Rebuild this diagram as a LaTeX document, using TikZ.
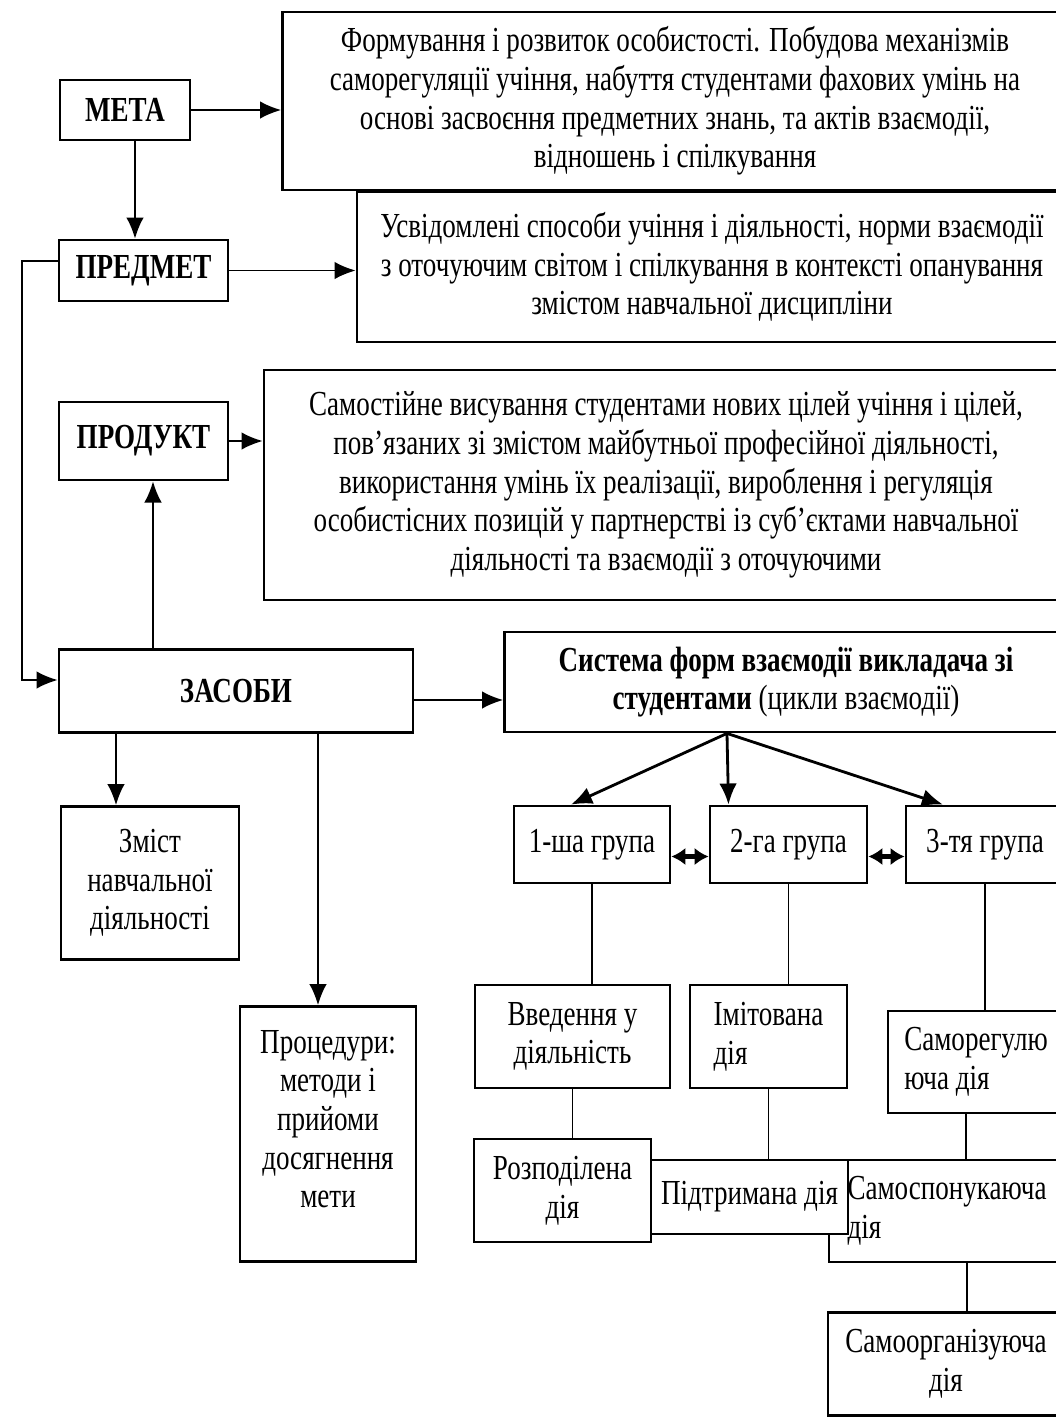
\documentclass[tikz,border=0pt]{standalone}
\usepackage{fontspec}
\setmainfont[FakeStretch=0.77]{Liberation Serif}
\usetikzlibrary{arrows.meta}
\newcommand\boxfont{\fontsize{10pt}{11pt}\selectfont}
\begin{document}
\begin{tikzpicture}[x=0.1mm, y=-0.1mm,
    lbl/.style={draw, rectangle, fill=white, line width=0.8pt, font=\boxfont\bfseries, align=center, inner sep=2pt},
    txt/.style={draw, rectangle, fill=white, line width=0.8pt, font=\boxfont, align=center, inner sep=2pt},
    ltxt/.style={txt, align=left},
    link/.style={-{Latex[length=6pt,width=5pt]}, line width=0.5pt},
    dbl/.style={{Latex[length=4pt,width=5pt]}-{Latex[length=4pt,width=5pt]}, line width=1.2pt},
    wire/.style={line width=0.5pt}
]
\useasboundingbox (0,0) rectangle (1056,1418);
\clip (0,0) rectangle (1056,1418);
\fill[white] (0,0) rectangle (1056,1418);

% top blocks
\node[lbl, minimum width=13mm, minimum height=6mm] (meta) at (125,110) {МЕТА};
\node[txt, minimum width=78.5mm, minimum height=17.8mm] (metatext) at (675,101) {Формування і розвиток особистості. Побудова механізмів\\ саморегуляції учіння, набуття студентами фахових умінь на\\ основі засвоєння предметних знань, та актів взаємодії,\\ відношень і спілкування};

\node[lbl, minimum width=16.9mm, minimum height=6.1mm] (predmet) at (143.5,270.5) {ПРЕДМЕТ};
\node[txt, minimum width=71mm, minimum height=15mm] (predmettext) at (712,267) {Усвідомлені способи учіння і діяльності, норми взаємодії\\ з оточуючим світом і спілкування в контексті опанування\\ змістом навчальної дисципліни};

\node[lbl, minimum width=16.9mm, minimum height=7.8mm] (produkt) at (143.5,441) {ПРОДУКТ};
\node[txt, minimum width=80.4mm, minimum height=23mm] (produkttext) at (666,485) {Самостійне висування студентами нових цілей учіння і цілей,\\ пов’язаних зі змістом майбутньої професійної діяльності,\\ використання умінь їх реалізації, вироблення і регуляція\\ особистісних позицій у партнерстві із суб’єктами навчальної\\ діяльності та взаємодії з оточуючими};

\node[lbl, minimum width=35.4mm, minimum height=8.3mm] (zasoby) at (236,691) {ЗАСОБИ};
\node[txt, minimum width=56.3mm, minimum height=10mm] (sistema) at (786,682) {\textbf{Система форм взаємодії викладача зі}\\ \textbf{студентами} (цикли взаємодії)};

% left branches
\node[txt, minimum width=17.8mm, minimum height=15.3mm] (zmist) at (150,883) {Зміст\\ навчальної\\ діяльності};
\node[txt, minimum width=17.6mm, minimum height=25.5mm, text depth=3mm] (procedury) at (328,1134) {Процедури:\\ методи і\\ прийоми\\ досягнення\\ мети};

% groups
\node[txt, minimum width=15.6mm, minimum height=7.7mm] (g1) at (592,844.5) {1-ша група};
\node[txt, minimum width=15.7mm, minimum height=7.7mm] (g2) at (788.5,844.5) {2-га група};
\node[txt, minimum width=15.8mm, minimum height=7.7mm] (g3) at (985,844.5) {3-тя група};

% actions
\node[txt, minimum width=19.5mm, minimum height=10.3mm] (vvedennya) at (572.5,1036.5) {Введення у\\ діяльність};
\node[ltxt, minimum width=15.7mm, minimum height=10.3mm] (imitovana) at (768.5,1036.5) {Імітована\\ дія};
\node[ltxt, minimum width=17.6mm, minimum height=10.2mm] (samoreg) at (976,1062) {Саморегулю\\ юча дія};
\node[txt, minimum width=17.7mm, minimum height=10.3mm] (rozpod) at (562.5,1190.5) {Розподілена\\ дія};
\node[ltxt, minimum width=23.6mm, minimum height=10.2mm] (samosp) at (947,1211) {Самоспонукаюча\\ дія};
\node[txt, minimum width=19.7mm, minimum height=7.4mm] (pidtr) at (749.5,1197) {Підтримана дія};
\node[txt, minimum width=23.6mm, minimum height=10.3mm] (samoorg) at (946,1364) {Самоорганізуюча\\ дія};

% arrows
\draw[link] (meta.east) -- (meta.east -| metatext.west);
\draw[link] ([xshift=1mm]meta.south) -- ([xshift=1mm]meta.south |- predmet.north);
\draw[link] (predmet.east) -- (predmet.east -| predmettext.west);
\draw[link] (produkt.east) -- (produkt.east -| produkttext.west);
\coordinate (bus) at (22,261);
\draw[link] (predmet.west |- bus) -- (bus) |- ([yshift=1.1mm]zasoby.west);
\draw[link] ([xshift=-8.3mm]zasoby.north) -- ([xshift=-8.3mm]zasoby.north |- produkt.south);
\draw[link] ([yshift=-0.9mm]zasoby.east) -- ([yshift=-0.9mm]zasoby.east -| sistema.west);
\draw[link] ([xshift=-3.4mm]zmist.north |- zasoby.south) -- ([xshift=-3.4mm]zmist.north);
\draw[link] ([xshift=-1mm]procedury.north |- zasoby.south) -- ([xshift=-1mm]procedury.north);

% fan to groups
\coordinate (fan) at ([xshift=-5.9mm]sistema.south);
\foreach \g/\dx in {g1/-2.1mm, g2/-6mm, g3/-4.2mm}
    \draw[link, line width=0.8pt] (fan) -- ([xshift=\dx]\g.north);
\draw[dbl] ([yshift=-1.2mm]g1.east) -- ([yshift=-1.2mm]g2.west);
\draw[dbl] ([yshift=-1.2mm]g2.east) -- ([yshift=-1.2mm]g3.west);

% chains
\draw[wire] (g1.south) -- (g1.south |- vvedennya.north);
\draw[wire] (g2.south) -- (g2.south |- imitovana.north);
\draw[wire] (g3.south) -- (g3.south |- samoreg.north);
\draw[wire] (vvedennya.south) -- (vvedennya.south |- rozpod.north);
\draw[wire] (imitovana.south) -- (imitovana.south |- pidtr.north);
\draw[wire] ([xshift=-1mm]samoreg.south) -- ([xshift=-1mm]samoreg.south |- samosp.north);
\draw[wire] ([xshift=2mm]samosp.south) -- ([xshift=2mm]samosp.south |- samoorg.north);
\end{tikzpicture}
\end{document}
